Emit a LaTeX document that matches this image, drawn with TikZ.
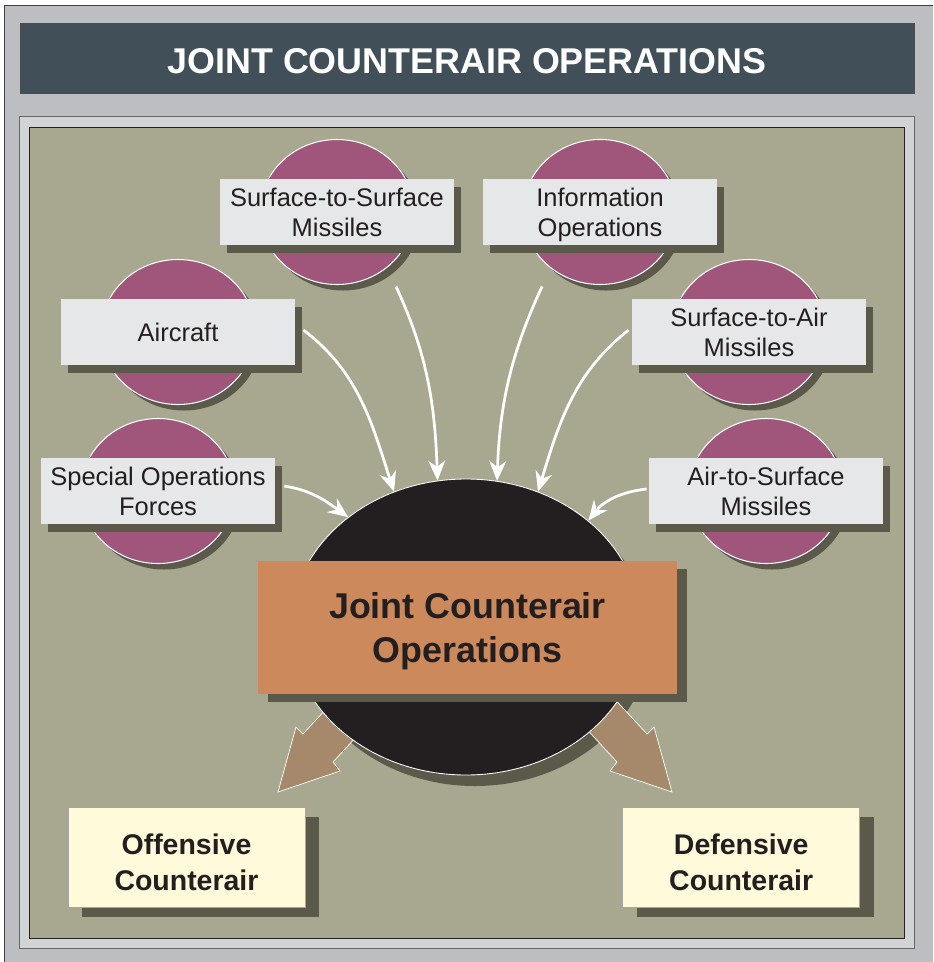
\documentclass[tikz,border=0pt]{standalone}
\usepackage{fontspec}
\setmainfont{Liberation Sans}
\usetikzlibrary{positioning, shapes, shadows, arrows.meta}

\definecolor{frameGray}{HTML}{BDBEC2}
\definecolor{bandGray}{HTML}{D2D3D5}
\definecolor{titleSlate}{HTML}{414F59}
\definecolor{panelTan}{HTML}{A8A790}
\definecolor{threatPurple}{HTML}{A0567A}
\definecolor{labelGray}{HTML}{E6E7E8}
\definecolor{shadowGray}{HTML}{5A594A}
\definecolor{coreBlack}{HTML}{231F20}
\definecolor{coreOrange}{HTML}{CC8A5C}
\definecolor{arrowBrown}{HTML}{A6896A}
\definecolor{resultYellow}{HTML}{FFFBDA}

\begin{document}
\begin{tikzpicture}[
    x = 0.2mm, y = -0.2mm,
    threatEll/.append style = {ellipse, draw = white, line width = 0.6pt, fill = threatPurple, minimum width = 30.8mm, minimum height = 29mm, drop shadow = {shadow xshift = 1.2mm, shadow yshift = -1.2mm, fill = shadowGray, opacity = 1}},
    threatLabel/.append style = {rectangle, fill = labelGray, inner sep = 0pt, minimum width = 46.8mm, minimum height = 13.2mm, align = center, text depth = 0pt, text = coreBlack, font = \fontsize{14.5}{17}\selectfont, drop shadow = {shadow xshift = 1.4mm, shadow yshift = -1.6mm, fill = shadowGray, opacity = 1}},
    coreBox/.append style = {rectangle, fill = coreOrange, inner sep = 0pt, minimum width = 83.8mm, minimum height = 26.6mm, align = center, text depth = -0.5mm, text = coreBlack, font = \bfseries\fontsize{20.4}{25.5}\selectfont, drop shadow = {shadow xshift = 2mm, shadow yshift = -1.6mm, fill = shadowGray, opacity = 1}},
    resultBox/.append style = {rectangle, fill = resultYellow, draw = black!35, line width = 0.4pt, inner sep = 0pt, minimum width = 47.4mm, minimum height = 20mm, align = center, text height = 13.3mm, text depth = 0pt, text = coreBlack, font = \bfseries\fontsize{16.2}{20.4}\selectfont, drop shadow = {shadow xshift = 2.8mm, shadow yshift = -2mm, fill = shadowGray, opacity = 1}},
    myArrow/.append style = {-{Stealth[length = 4mm, width = 3.4mm]}, draw = white, line width = 0.55mm},
    blockArrow/.append style = {fill = arrowBrown, draw = white, line width = 0.4pt, line join = miter},
    node distance = 0.8cm
    ]
      \useasboundingbox (0,0) rectangle (933,962);
      \clip (0,0) rectangle (933,962);
      \fill[white] (0,0) rectangle (933,962);
      \filldraw[fill = frameGray, draw = black!75, line width = 0.5pt] (4,5) rectangle (945,975);
      \node[rectangle, fill = titleSlate, draw = black!70, minimum width = 178.8mm, minimum height = 14mm, text height = 6.1mm, text depth = 0pt, text = white, font = \bfseries\fontsize{20.4}{24}\selectfont] (titleBar) at (467,58) {JOINT COUNTERAIR OPERATIONS};
      \filldraw[fill = bandGray, draw = black!60, line width = 0.4pt] (19,116) rectangle (914,948);
      \filldraw[fill = panelTan, draw = coreBlack, line width = 0.5pt] (29,127) rectangle (904,938);
      
      \node[threatEll] (ssmEll) at (337,212) {};
      \node[threatEll, right = 21.6mm of ssmEll] (ioEll) {};
      \node[threatEll] (aircraftEll) at (178,332) {};
      \node[threatEll] (samEll) at (749,332) {};
      \node[threatEll] (sofEll) at (158,491) {};
      \node[threatEll] (asmEll) at (766,491) {};
      
      \node[threatLabel] (ssmLbl) at (ssmEll) {Surface-to-Surface\\Missiles};
      \node[threatLabel] (ioLbl) at (ioEll) {Information\\Operations};
      \node[threatLabel] (aircraftLbl) at (aircraftEll) {Aircraft};
      \node[threatLabel] (samLbl) at (samEll) {Surface-to-Air\\Missiles};
      \node[threatLabel] (sofLbl) at (sofEll) {Special Operations\\Forces};
      \node[threatLabel] (asmLbl) at (asmEll) {Air-to-Surface\\Missiles};
      
      \coordinate (jcoCenter) at (466,627);
      \fill[shadowGray] ([xshift = 1.8mm, yshift = -2.2mm]jcoCenter) ellipse [x radius = 35mm, y radius = 29.6mm];
      
      %% Block arrows
      \filldraw[blockArrow] (364,668) -- (303,734) -- (296,727) -- (278,792) -- (340,771) -- (333,762) -- (394,696) -- cycle;
      \filldraw[blockArrow] (586,668) -- (647,734) -- (654,727) -- (672,792) -- (610,771) -- (617,762) -- (556,696) -- cycle;
      
      \node[ellipse, fill = coreBlack, draw = white, line width = 0.5pt, minimum width = 70mm, minimum height = 59.2mm] (jcoEll) at (jcoCenter) {};
      \node[coreBox] (jcoBox) at (467.5,627.5) {Joint Counterair\\Operations};
      
      \node[resultBox] (ocaBox) at (186.5,857) {Offensive\\Counterair};
      \node[resultBox, right = 63.4mm of ocaBox] (dcaBox) {Defensive\\Counterair};
      
      %% Arrows
      \draw[myArrow] ([xshift = 1.6mm, yshift = 0.4mm]aircraftLbl.east) .. controls +(-37:14mm) and +(108:14mm) .. (jcoEll.118);
      \draw[myArrow] ([xshift = 11.8mm, yshift = -0.3mm]ssmEll.south) .. controls +(-65:15mm) and +(92:15mm) .. (jcoEll.101);
      \draw[myArrow] ([xshift = -11.6mm, yshift = -0.3mm]ioEll.south) .. controls +(-115:15mm) and +(88:15mm) .. (jcoEll.78);
      \draw[myArrow] ([xshift = -0.6mm, yshift = 0.4mm]samLbl.west) .. controls +(218:14mm) and +(73:14mm) .. (jcoEll.62);
      \draw[myArrow] ([xshift = 1.8mm, yshift = 1mm]sofLbl.east) .. controls +(-9:5.5mm) and +(144:5.5mm) .. (jcoEll.137);
      \draw[myArrow] ([xshift = -0.4mm, yshift = 0.4mm]asmLbl.west) .. controls +(186:5mm) and +(52:5mm) .. (jcoEll.41);
    \end{tikzpicture}
\end{document}
